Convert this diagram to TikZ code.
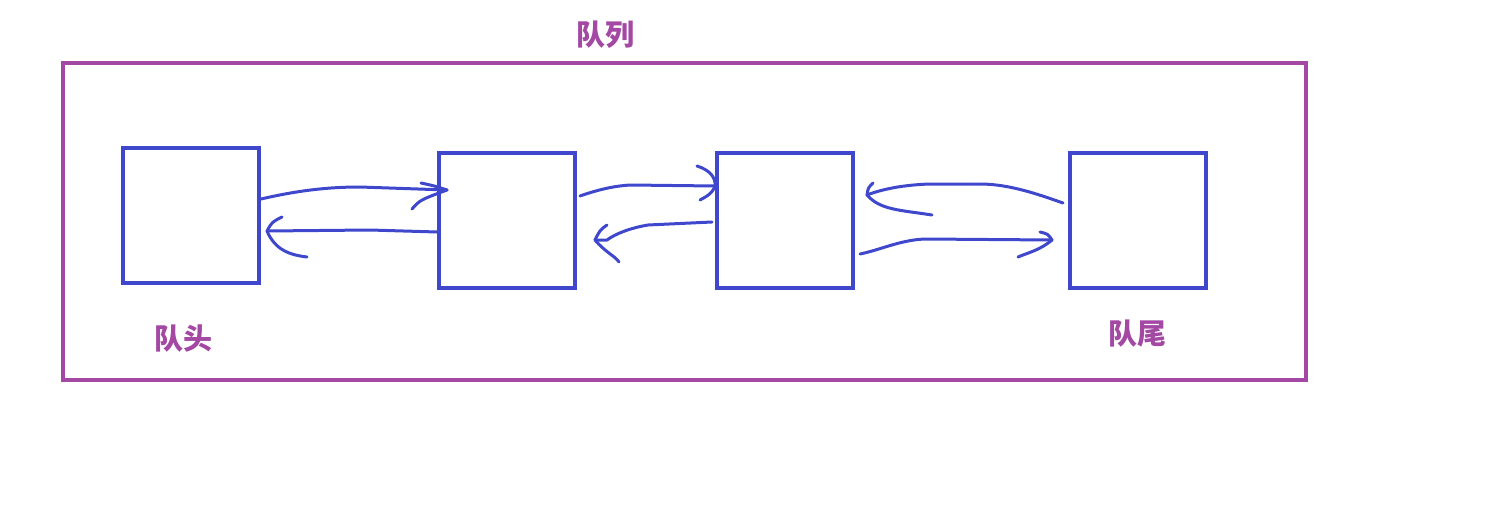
\documentclass[tikz,border=0pt]{standalone}
\usepackage{fontspec}
\newfontfamily\cjk{Noto Sans CJK SC}
\definecolor{pblue}{HTML}{3F48CC}
\definecolor{ppurple}{HTML}{A349A4}
\begin{document}
\begin{tikzpicture}[x=1pt,y=-1pt,
  cell/.style={draw=pblue,line width=4pt,minimum width=136pt,minimum height=135pt,inner sep=0pt},
  hand/.style={draw=pblue,line width=3pt,line cap=round,line join=round},
  lbl/.style={text=ppurple,font=\cjk\bfseries\fontsize{29}{32}\selectfont,inner sep=0pt}]
\useasboundingbox (0,0) rectangle (1486,522);
\draw[ppurple,line width=4pt] (63,63) rectangle (1306,380);
\node[lbl] (title) at (605,35) {队列};
\node[lbl] (head) at (183,339) {队头};
\node[lbl] (tail) at (1137,334) {队尾};
\node[cell] (b1) at (191,215.5) {};
\node[cell] (b2) at (507,220.5) {};
\node[cell] (b3) at (785,220.5) {};
\node[cell] (b4) at (1138,220.5) {};
% arrow endpoints
\coordinate (s1) at (261,199); \coordinate (t1) at (447,190);
\coordinate (s2) at (437,232); \coordinate (t2) at (267,231);
\coordinate (s3) at (580,196); \coordinate (t3) at (715,186);
\coordinate (s4) at (712,222); \coordinate (t4) at (595,240);
\coordinate (s5) at (1063,203); \coordinate (t5) at (867,195);
\coordinate (s6) at (860,254); \coordinate (t6) at (1052,240);
% b1 -> b2
\draw[hand] (s1) .. controls (300,190) and (330,187) .. (360,187) -- (t1);
\draw[hand] (421,183) .. controls (435,186) .. (t1);
\draw[hand] (412,209) .. controls (420,200) .. (t1);
% b2 -> b1
\draw[hand] (s2) -- (370,230) -- (t2);
\draw[hand] (282,217) .. controls (272,222) .. (t2);
\draw[hand] (t2) .. controls (275,250) and (290,255) .. (307,257);
% b2 -> b3
\draw[hand] (s3) .. controls (600,189) and (615,186) .. (630,185) -- (t3);
\draw[hand] (697,166) .. controls (710,170) and (716,178) .. (t3);
\draw[hand] (t3) .. controls (712,195) and (703,198) .. (700,200);
% b3 -> b2
\draw[hand] (s4) -- (648,225) .. controls (630,228) and (615,234) .. (607,240) -- (t4);
\draw[hand] (607,225) .. controls (600,230) .. (t4);
\draw[hand] (t4) .. controls (605,252) and (615,256) .. (619,262);
% b4 -> b3
\draw[hand] (s5) .. controls (1040,195) and (1010,184) .. (980,184) -- (930,184) .. controls (900,185) and (880,190) .. (t5);
\draw[hand] (873,183) .. controls (868,188) .. (t5);
\draw[hand] (t5) .. controls (880,210) and (900,210) .. (932,215);
% b3 -> b4
\draw[hand] (s6) .. controls (880,250) and (900,240) .. (925,239) -- (t6);
\draw[hand] (1040,232) .. controls (1048,234) .. (t6);
\draw[hand] (t6) .. controls (1040,250) and (1030,252) .. (1018,257);
\end{tikzpicture}
\end{document}
